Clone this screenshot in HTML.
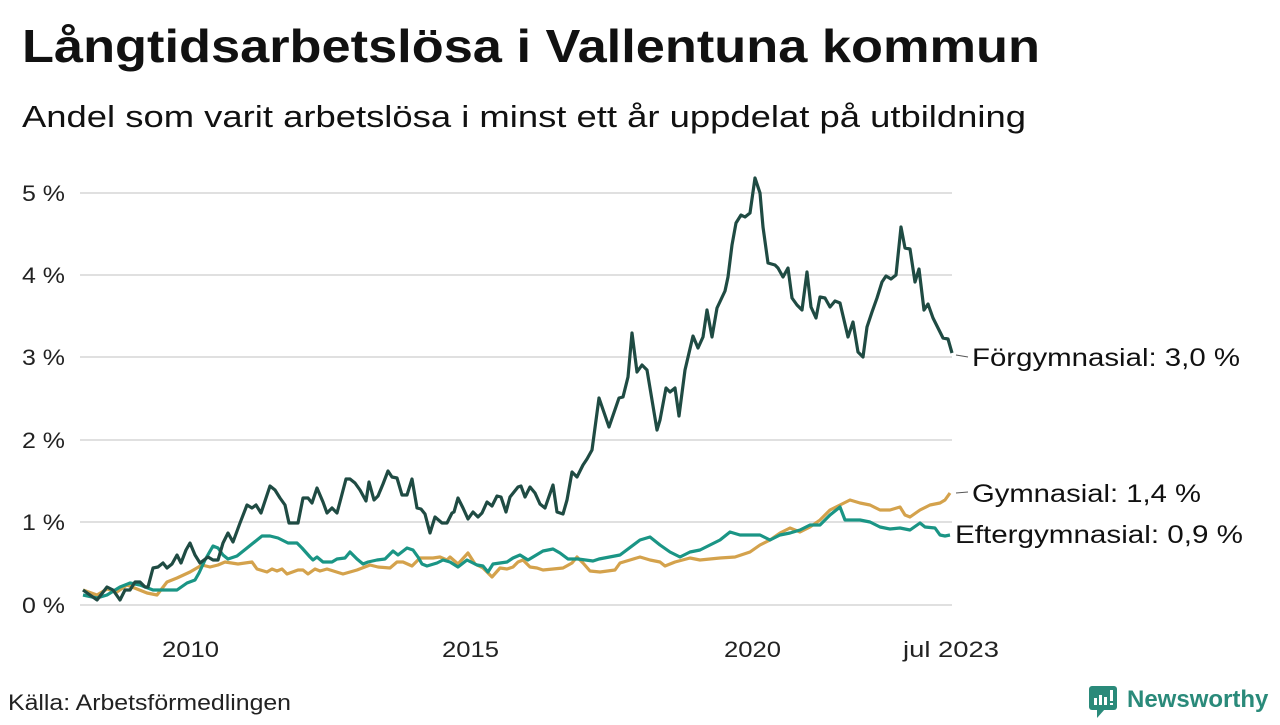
<!DOCTYPE html>
<html><head><meta charset="utf-8"><style>
body{margin:0;width:1280px;height:720px;background:#fff;overflow:hidden;font-family:"Liberation Sans",sans-serif;color:#111}
</style></head><body>
<svg width="1280" height="720" xmlns="http://www.w3.org/2000/svg" font-family="Liberation Sans, sans-serif">
<text x="22" y="62" font-size="46" font-weight="bold" fill="#111" textLength="1018" lengthAdjust="spacingAndGlyphs">Långtidsarbetslösa i Vallentuna kommun</text>
<text x="22" y="127" font-size="31" fill="#111" textLength="1004" lengthAdjust="spacingAndGlyphs">Andel som varit arbetslösa i minst ett år uppdelat på utbildning</text>
<g stroke="#e0e0e0" stroke-width="2">
<line x1="80" x2="952" y1="193" y2="193"/><line x1="80" x2="952" y1="275" y2="275"/><line x1="80" x2="952" y1="357" y2="357"/><line x1="80" x2="952" y1="440" y2="440"/><line x1="80" x2="952" y1="522" y2="522"/><line x1="80" x2="952" y1="605" y2="605"/>
</g>
<g font-size="22" fill="#222">
<text x="22" y="201" textLength="43" lengthAdjust="spacingAndGlyphs">5 %</text><text x="22" y="283" textLength="43" lengthAdjust="spacingAndGlyphs">4 %</text><text x="22" y="365" textLength="43" lengthAdjust="spacingAndGlyphs">3 %</text><text x="22" y="448" textLength="43" lengthAdjust="spacingAndGlyphs">2 %</text><text x="22" y="530" textLength="43" lengthAdjust="spacingAndGlyphs">1 %</text><text x="22" y="613" textLength="43" lengthAdjust="spacingAndGlyphs">0 %</text>
<text x="162" y="657" textLength="57" lengthAdjust="spacingAndGlyphs">2010</text><text x="442" y="657" textLength="57" lengthAdjust="spacingAndGlyphs">2015</text><text x="724" y="657" textLength="57" lengthAdjust="spacingAndGlyphs">2020</text><text x="903" y="657" textLength="96" lengthAdjust="spacingAndGlyphs">jul 2023</text>
</g>
<g fill="none" stroke-width="3.2" stroke-linejoin="round">
<polyline stroke="#d4a24c" points="83,590 97,595 107,589 117,592 127,585 137,589 147,593 157,595 167,582 177,578 190,572 202,565 210,567 218,565 225,562 238,564 252,562 257,569 267,572 272,569 277,571 282,569 287,574 298,570 303,570 308,574 315,569 320,571 327,569 343,574 357,570 370,565 378,567 390,568 397,562 403,562 412,566 420,558 433,558 440,557 447,560 450,557 458,564 468,553 475,564 483,568 492,577 500,568 507,569 513,567 518,562 523,560 530,567 537,568 543,570 563,568 572,563 577,557 583,563 590,571 600,572 615,570 620,563 630,560 640,557 650,560 660,562 665,566 675,562 690,558 700,560 720,558 735,557 750,552 760,545 770,540 780,533 790,528 800,532 810,527 820,520 830,510 840,505 850,500 860,503 870,505 880,510 890,510 900,507 905,515 910,517 920,510 930,505 940,503 945,500 950,493"/>
<polyline stroke="#1a9585" points="83,595 97,598 107,595 120,587 130,583 140,585 153,590 163,590 177,590 187,583 195,580 199,573 205,560 213,546 218,548 223,555 228,559 237,556 247,548 262,536 270,536 278,538 288,543 297,543 302,548 310,557 313,560 317,557 323,562 332,562 337,559 345,558 350,552 357,559 363,564 368,562 377,560 385,559 393,551 398,555 407,548 413,550 418,557 422,564 427,566 437,563 443,560 450,562 458,567 467,560 477,565 483,566 488,572 493,564 507,562 513,558 520,555 528,560 533,557 543,551 553,549 560,553 568,559 578,559 593,561 599,559 620,555 640,540 650,537 660,545 670,552 680,557 690,552 700,550 710,545 720,540 730,532 740,535 750,535 760,535 770,540 780,535 790,533 800,530 810,525 820,525 830,515 840,507 845,520 860,520 870,522 880,527 890,529 900,528 910,530 920,523 925,527 935,528 940,535 945,536 950,535"/>
<polyline stroke="#1f4b43" points="83,590 97,600 107,587 113,590 120,600 125,590 130,590 135,582 140,582 145,587 148,587 153,568 158,567 163,563 167,568 172,564 177,555 181,563 186,550 190,543 195,555 200,563 208,557 213,560 218,560 223,543 228,533 233,542 240,523 247,505 252,508 256,505 261,513 270,486 275,490 280,498 285,505 289,523 298,523 303,498 308,498 312,503 317,488 323,502 327,513 332,508 337,513 341,498 346,479 350,479 355,483 360,490 366,501 369,482 374,500 378,496 383,484 388,471 392,477 397,478 402,495 407,495 412,479 417,508 421,509 425,514 430,533 435,517 442,523 447,523 452,513 454,512 458,498 463,508 468,519 473,512 478,517 482,513 487,502 492,506 497,496 501,497 506,512 510,497 518,487 521,486 525,497 530,487 535,493 540,504 545,508 553,485 557,512 563,514 567,500 572,472 577,477 583,465 587,459 592,450 599,398 609,427 619,398 623,397 628,377 632,333 637,372 642,365 647,370 657,430 660,420 666,388 670,392 675,388 679,416 685,370 693,336 698,348 703,337 707,310 712,337 717,308 725,291 728,277 732,245 736,223 741,215 745,217 750,213 755,178 760,193 763,227 768,263 775,265 778,268 783,277 788,268 792,298 797,305 802,310 807,272 811,307 816,318 820,297 825,298 830,307 835,301 840,303 848,337 853,322 858,352 863,357 867,327 872,312 877,298 882,282 886,276 891,279 896,275 901,227 905,248 910,249 915,282 919,269 924,310 928,304 933,318 943,338 948,339 952,353"/>
</g>
<g stroke="#555" stroke-width="1"><line x1="956" y1="355" x2="968" y2="357"/><line x1="956" y1="493" x2="968" y2="492"/></g>
<g font-size="25" fill="#111">
<text x="972" y="366" textLength="268" lengthAdjust="spacingAndGlyphs">Förgymnasial: 3,0 %</text>
<text x="972" y="502" textLength="229" lengthAdjust="spacingAndGlyphs">Gymnasial: 1,4 %</text>
<text x="955" y="543" textLength="288" lengthAdjust="spacingAndGlyphs">Eftergymnasial: 0,9 %</text>
</g>
<text x="8" y="710" font-size="22" fill="#222" textLength="283" lengthAdjust="spacingAndGlyphs">Källa: Arbetsförmedlingen</text>
<g>
<rect x="1089" y="686" width="28" height="24" rx="3" fill="#2a8a7a"/>
<polygon points="1097,709 1105,709 1097,718" fill="#2a8a7a"/>
<rect x="1094" y="698" width="3" height="7" fill="#fff"/><rect x="1099" y="695" width="3" height="10" fill="#fff"/><rect x="1104" y="697" width="3" height="8" fill="#fff"/><rect x="1110" y="690" width="3" height="11" fill="#fff"/><rect x="1110" y="703" width="3" height="2" fill="#fff"/>
<text x="1127" y="707" font-size="24" font-weight="bold" fill="#2a8a7a">Newsworthy</text>
</g>
</svg>
</body></html>
